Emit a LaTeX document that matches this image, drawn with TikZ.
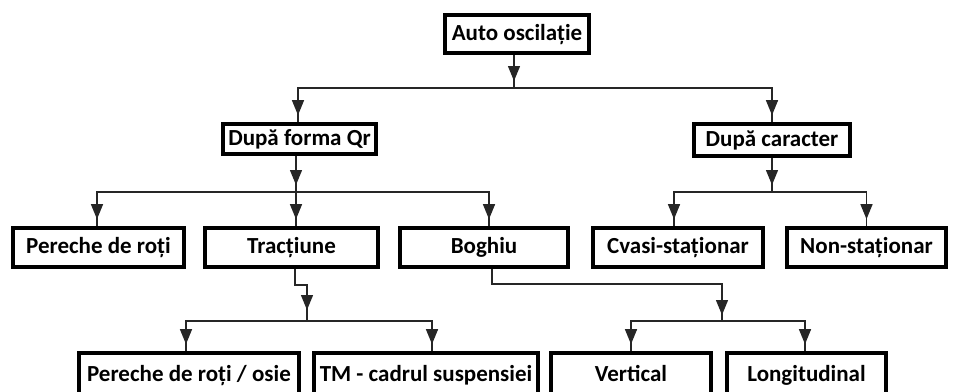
\documentclass[tikz,border=0pt]{standalone}
\usepackage{fontspec}
\setmainfont{Carlito}
\usetikzlibrary{arrows.meta,decorations.markings}
\begin{document}
\begin{tikzpicture}[x=1pt,y=-1pt,
  box/.style={draw=black,line width=3.6pt,inner sep=0pt,minimum height=39pt,
    text height=17pt,text depth=5pt,
    font=\fontsize{23}{27}\selectfont\bfseries,fill=white},
  conn/.style={draw=black!85,line width=1.3pt},
  tipend/.style={conn,postaction={decorate},decoration={markings,
    mark=at position -#1 with {\arrow{Triangle[width=12pt,length=15pt]}}}},
  tipend/.default=7pt]
\useasboundingbox (0,0) rectangle (953,391);
\clip (0,0) rectangle (953,391);
% nodes
\node[box,minimum width=144pt,minimum height=38pt] (auto) at (517,34) {Auto oscilație};
\node[box,minimum width=153pt,minimum height=30pt] (dfq) at (299.5,139) {După forma Qr};
\node[box,minimum width=156pt,minimum height=32pt] (dc) at (772,140) {După caracter};
\node[box,minimum width=171pt] (p1) at (98.5,247.5) {Pereche de roți};
\node[box,minimum width=173pt] (tr) at (291.5,247.5) {Tracțiune};
\node[box,minimum width=168pt] (bo) at (484,247.5) {Boghiu};
\node[box,minimum width=170pt] (cv) at (678,247.5) {Cvasi-staționar};
\node[box,minimum width=159pt] (ns) at (866.5,247.5) {Non-staționar};
\node[box,minimum width=220pt,minimum height=44pt] (p2) at (189,375) {Pereche de roți / osie};
\node[box,minimum width=224pt,minimum height=44pt] (tm) at (426,375) {TM - cadrul suspensiei};
\node[box,minimum width=160pt,minimum height=44pt] (ve) at (631,375) {Vertical};
\node[box,minimum width=159pt,minimum height=44pt] (lo) at (806.5,375) {Longitudinal};
% junction coordinates
\coordinate (j1) at (514,88);
\coordinate (j2) at (296,192);
\coordinate (j3) at (772,192);
\coordinate (k1) at (295,285);
\coordinate (j4) at (307,321);
\coordinate (k2) at (492,284);
\coordinate (j5) at (722,321);
% level 1
\path[tipend] (auto.south -| j1) -- (j1);
\path[tipend] (j1) -| ([xshift=-1.5pt]dfq.north);
\path[tipend] (j1) -| (dc.north);
% level 2 left
\path[tipend] (dfq.south -| j2) -- (j2);
\path[tipend] (j2) -| ([xshift=-1.5pt]p1.north);
\path[tipend] (j2) -- (tr.north -| j2);
\path[tipend] (j2) -| ([xshift=5pt]bo.north);
% level 2 right
\path[tipend] (dc.south) -- (j3);
\path[tipend] (j3) -| ([xshift=-4pt]cv.north);
\path[tipend] (j3) -| (ns.north);
% Tractiune children
\path[tipend=11pt] (tr.south -| k1) -- (k1) -| (j4);
\path[tipend] (j4) -| ([xshift=-3pt]p2.north);
\path[tipend] (j4) -| ([xshift=6pt]tm.north);
% Boghiu children
\path[tipend=6pt] (bo.south -| k2) -- (k2) -| (j5);
\path[tipend] (j5) -| (ve.north);
\path[tipend] (j5) -| ([xshift=-1.5pt]lo.north);
\end{tikzpicture}
\end{document}
